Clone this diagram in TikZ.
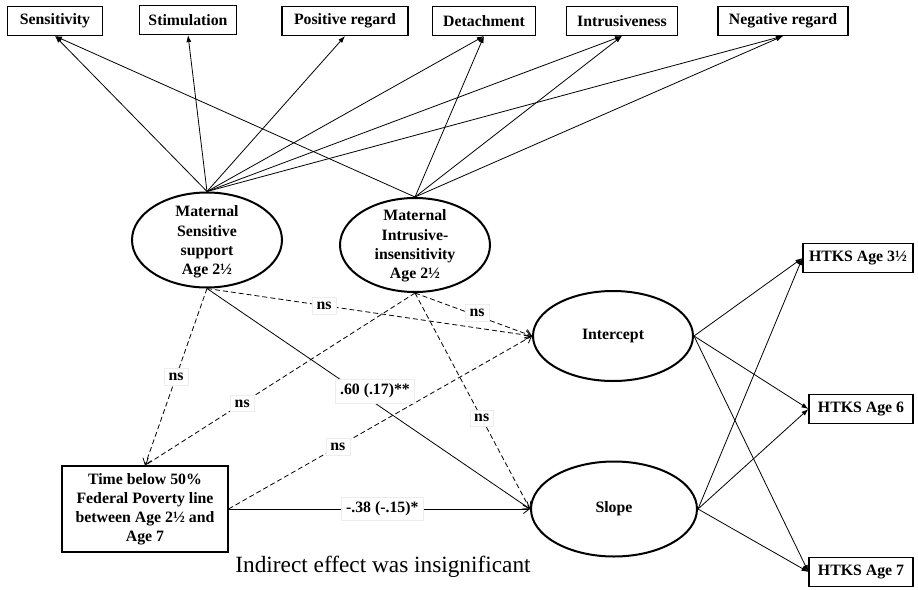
\documentclass[tikz,border=0pt]{standalone}
\usepackage{fontspec}
\setmainfont{Liberation Serif}
\usetikzlibrary{shapes.geometric,arrows.meta}
\begin{document}
\begin{tikzpicture}[x=1pt,y=-1pt,
  box/.style={draw,line width=1.1pt,font=\bfseries\fontsize{15.8}{18}\selectfont,inner sep=0pt,minimum height=29pt},
  lat/.style={draw,ellipse,line width=2pt,inner sep=0pt,font=\bfseries\fontsize{15.8}{18}\selectfont},
  lattext/.style={font=\bfseries\fontsize{15.8}{19.3}\selectfont,align=center,inner sep=0pt},
  load/.style={-{Latex[length=7pt,width=5pt]},line width=0.8pt},
  pathline/.style={-{Straight Barb[length=6pt,width=9pt]},line width=0.8pt},
  dpath/.style={pathline,dash pattern=on 5pt off 3pt},
  lbl/.style={fill=white,draw=black!7,font=\bfseries\fontsize{15.8}{18}\selectfont,inner sep=4.5pt},
]
\fill[white] (0,0) rectangle (918,589);
\useasboundingbox (0,0) rectangle (918,589);

% indicator boxes
\node[box,minimum width=95pt] (t1) at (55,21) {Sensitivity};
\node[box,minimum width=97pt] (t2) at (188,20) {Stimulation};
\node[box,minimum width=126pt] (t3) at (345,21) {Positive regard};
\node[box,minimum width=103pt] (t4) at (484,21) {Detachment};
\node[box,minimum width=111pt] (t5) at (622,21) {Intrusiveness};
\node[box,minimum width=130pt] (t6) at (783,21) {Negative regard};

% latent factors
\node[lat,minimum width=150pt,minimum height=95pt] (ms) at (207,240) {};
\node[lattext] (mst) at (207,242) {Maternal\\Sensitive\\support\\Age 2½};
\node[lat,minimum width=150pt,minimum height=94pt] (mi) at (415,245) {};
\node[lattext] (mit) at (415,246) {Maternal\\Intrusive-\\insensitivity\\Age 2½};

\node[lat,minimum width=160pt,minimum height=90pt] (ic) at (613,336) {Intercept};
\node[lat,minimum width=166pt,minimum height=95pt] (sl) at (614,509) {Slope};

% outcomes
\node[box,minimum width=110pt] (h1) at (858,258) {HTKS Age 3½};
\node[box,minimum width=104pt] (h2) at (861,409) {HTKS Age 6};
\node[box,minimum width=104pt] (h3) at (861,572) {HTKS Age 7};

% poverty box
\node[box,minimum width=166pt,minimum height=86pt,align=center,font=\bfseries\fontsize{15.8}{19}\selectfont] (tb) at (145,509)
  {Time below 50\%\\Federal Poverty line\\between Age 2½ and\\Age 7};

\node[font=\fontsize{23.3}{27}\selectfont,inner sep=0pt] (note) at (383,567) {Indirect effect was insignificant};

% loadings
\foreach \t in {t1,t2,t3,t4,t5,t6} \draw[load] (ms.north) -- (\t.south);
\foreach \t in {t1,t4,t5,t6} \draw[load] (mi.north) -- (\t.south);

% growth loadings
\foreach \h in {h1,h2,h3} {
  \draw[load] (ic.east) -- (\h.west);
  \draw[load] (sl.east) -- (\h.west);
}

% structural paths
\draw[dpath] (ms.south) -- (ic.west);
\draw[dpath] (mi.south) -- (ic.west);
\draw[dpath] (ms.south) -- (tb.north);
\draw[dpath] (mi.south) -- (tb.north);
\draw[dpath] (tb.east) -- (ic.west);
\draw[dpath] (mi.south) -- (sl.west);
\draw[pathline] (ms.south) -- (sl.west);
\draw[pathline] (tb.east) -- (sl.west);

% labels
\path (ms.south) -- node[lbl,pos=0.36] (l1) {ns} (ic.west);
\path (mi.south) -- node[lbl,pos=0.53,yshift=3pt] (l2) {ns} (ic.west);
\path (ms.south) -- node[lbl,pos=0.5] (l3) {ns} (tb.north);
\path (mi.south) -- node[lbl,pos=0.64] (l4) {ns} (tb.north);
\path (tb.east) -- node[lbl,pos=0.36] (l5) {ns} (ic.west);
\path (mi.south) -- node[lbl,pos=0.58] (l6) {ns} (sl.west);
\path (ms.south) -- node[lbl,pos=0.52,yshift=12pt] (l7) {.60 (.17)**} (sl.west);
\path (tb.east) -- node[lbl,pos=0.51] (l8) {-.38 (-.15)*} (sl.west);
\end{tikzpicture}
\end{document}
